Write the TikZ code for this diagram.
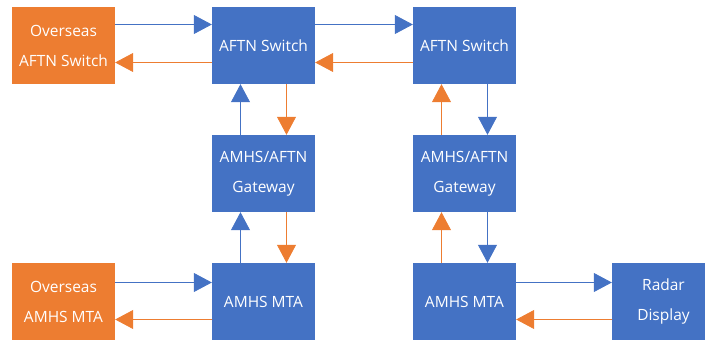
\documentclass[tikz,border=0pt]{standalone}
\usepackage{fontspec}
\setmainfont{Open Sans}
\usetikzlibrary{positioning,arrows.meta}
\definecolor{boxblue}{HTML}{4472C4}
\definecolor{boxorange}{HTML}{ED7D31}

\begin{document}
\begin{tikzpicture}[node distance=128pt,on grid,
    box/.style={fill=boxblue,text=white,minimum width=103pt,minimum height=77pt,
      inner sep=0pt,align=center,font=\fontsize{15.5}{30}\selectfont},
    far/.style={box,fill=boxorange},
    bl/.style={draw=boxblue,line width=0.8pt,-{Triangle[length=18pt,width=19pt]}},
    ol/.style={draw=boxorange,line width=0.8pt,-{Triangle[length=18pt,width=19pt]}}]
   \clip (0,0) rectangle (705pt,-340pt);
   \node[far] (os1) at (63.5pt,-45.5pt) {Overseas\\AFTN Switch};
   \node[box] (sw1) [right=200pt of os1] {AFTN Switch};
   \node[box] (sw2) [right=201pt of sw1] {AFTN Switch};
   \node[box] (gw1) [below=of sw1] {AMHS/AFTN\\Gateway};
   \node[box] (gw2) [below=of sw2] {AMHS/AFTN\\Gateway};
   \node[box] (mta1) [below=of gw1] {AMHS MTA};
   \node[box] (mta2) [below=of gw2] {AMHS MTA};
   \node[far] (os2) [left=200pt of mta1] {Overseas\\AMHS MTA};
   \node[box] (rd) [right=199pt of mta2] {Radar\\Display};
    \path
    ([yshift=21pt]os1.east) edge[bl] ([yshift=21pt]sw1.west)
    ([yshift=-17pt]sw1.west) edge[ol] ([yshift=-17pt]os1.east)
    ([yshift=21pt]sw1.east) edge[bl] ([yshift=21pt]sw2.west)
    ([yshift=-17pt]sw2.west) edge[ol] ([yshift=-17pt]sw1.east)
    ([xshift=-23pt]gw1.north) edge[bl] ([xshift=-23pt]sw1.south)
    ([xshift=23pt]sw1.south) edge[ol] ([xshift=23pt]gw1.north)
    ([xshift=-23pt]mta1.north) edge[bl] ([xshift=-23pt]gw1.south)
    ([xshift=23pt]gw1.south) edge[ol] ([xshift=23pt]mta1.north)
    ([xshift=-23pt]gw2.north) edge[ol] ([xshift=-23pt]sw2.south)
    ([xshift=23pt]sw2.south) edge[bl] ([xshift=23pt]gw2.north)
    ([xshift=-23pt]mta2.north) edge[ol] ([xshift=-23pt]gw2.south)
    ([xshift=23pt]gw2.south) edge[bl] ([xshift=23pt]mta2.north)
    ([yshift=19pt]os2.east) edge[bl] ([yshift=19pt]mta1.west)
    ([yshift=-18pt]mta1.west) edge[ol] ([yshift=-18pt]os2.east)
    ([yshift=19pt]mta2.east) edge[bl] ([yshift=19pt]rd.west)
    ([yshift=-18pt]rd.west) edge[ol] ([yshift=-18pt]mta2.east);
\end{tikzpicture}
\end{document}
